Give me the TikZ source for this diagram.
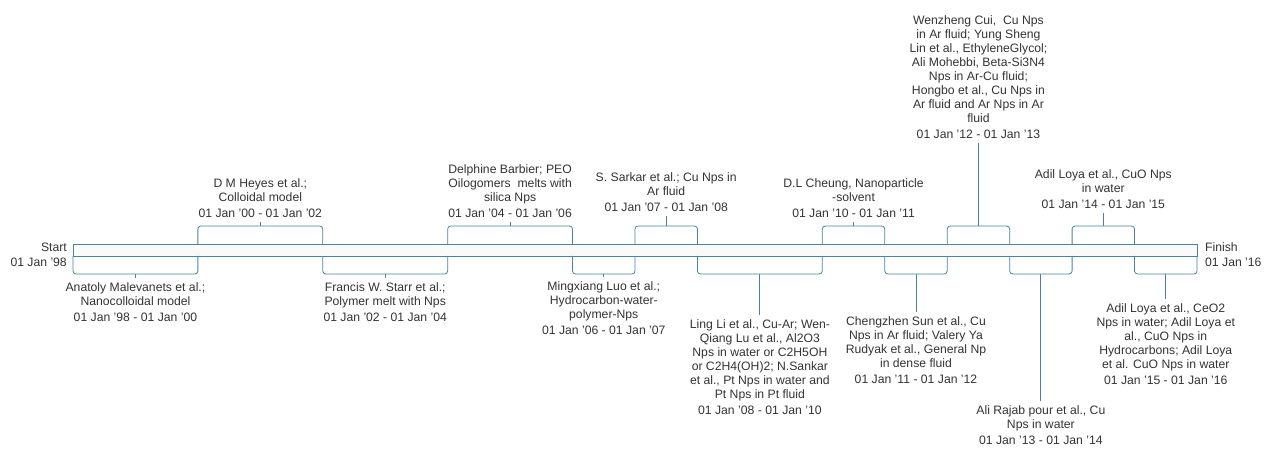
\documentclass[tikz,border=0pt]{standalone}
\usepackage{fontspec}
\setmainfont{Liberation Sans}
\usepackage{tikz}
\usetikzlibrary{positioning}
\definecolor{tlblue}{RGB}{72, 132, 160}
\definecolor{txtgray}{RGB}{51, 51, 51}
\definecolor{barfill}{RGB}{250, 250, 250}

\begin{document}
\begin{tikzpicture}[x=1bp,y=-1bp,
	declare function={yx(\t)=73+(\t-1998)*62.444;},
	brk/.style={draw=tlblue,line width=0.8bp,rounded corners=3bp},
	evt/.style={align=center,text=txtgray,inner xsep=0pt,inner ysep=4bp,font=\fontsize{12.2bp}{14bp}\selectfont},
	upevt/.style={evt,anchor=south},
	dnevt/.style={evt,anchor=north},
	endlbl/.style={text=txtgray,inner sep=0pt,font=\fontsize{12.2bp}{14bp}\selectfont}]
	\useasboundingbox (0,0) rectangle (1265,451);

	% time bar
	\draw[tlblue,line width=0.8bp,fill=barfill] (73,244) rectangle (1197,256);
	\node[endlbl,anchor=base east] (start) at (67,252) {Start};
	\node[endlbl,anchor=base east] (startdate) at (67,267) {01 Jan '98};
	\node[endlbl,anchor=base west] (finish) at (1205,252) {Finish};
	\node[endlbl,anchor=base west] (finishdate) at (1205,267) {01 Jan '16};

	% events above the bar
	\draw[brk] ({yx(2000)},244) |- ({yx(2001)},226) -| ({yx(2002)},244);
	\coordinate (heyesc) at ({yx(2001)},226);
	\node[upevt] (heyes) at ({yx(2001)},222) {D M Heyes et al.;\\Colloidal model\\[2bp]01 Jan '00 - 01 Jan '02};
	\draw[brk] (heyesc) -- (heyes);

	\draw[brk] ({yx(2004)},244) |- ({yx(2005)},226) -| ({yx(2006)},244);
	\coordinate (barbierc) at ({yx(2005)},226);
	\node[upevt] (barbier) at ({yx(2005)},222) {Delphine Barbier; PEO\\Oilogomers\ \ melts with\\silica Nps\\[2bp]01 Jan '04 - 01 Jan '06};
	\draw[brk] (barbierc) -- (barbier);

	\draw[brk] ({yx(2007)},244) |- ({yx(2007.5)},226) -| ({yx(2008)},244);
	\coordinate (sarkarc) at ({yx(2007.5)},226);
	\node[upevt] (sarkar) at ({yx(2007.5)},216) {S. Sarkar et al.; Cu Nps in\\Ar fluid\\[2bp]01 Jan '07 - 01 Jan '08};
	\draw[brk] (sarkarc) -- (sarkar);

	\draw[brk] ({yx(2010)},244) |- ({yx(2010.5)},226) -| ({yx(2011)},244);
	\coordinate (cheungc) at ({yx(2010.5)},226);
	\node[upevt] (cheung) at ({yx(2010.5)},222) {D.L Cheung, Nanoparticle\\-solvent\\[2bp]01 Jan '10 - 01 Jan '11};
	\draw[brk] (cheungc) -- (cheung);

	\draw[brk] ({yx(2012)},244) |- ({yx(2012.5)},226) -| ({yx(2013)},244);
	\coordinate (cuic) at ({yx(2012.5)},226);
	\node[upevt] (cui) at ({yx(2012.5)},143) {Wenzheng Cui,\ \ Cu Nps\\in Ar fluid; Yung Sheng\\Lin et al., EthyleneGlycol;\\Ali Mohebbi, Beta-Si3N4\\Nps in Ar-Cu fluid;\\Hongbo et al., Cu Nps in\\Ar fluid and Ar Nps in Ar\\fluid\\[2bp]01 Jan '12 - 01 Jan '13};
	\draw[brk] (cuic) -- (cui);

	\draw[brk] ({yx(2014)},244) |- ({yx(2014.5)},226) -| ({yx(2015)},244);
	\coordinate (loyacuoc) at ({yx(2014.5)},226);
	\node[upevt] (loyacuo) at ({yx(2014.5)},213) {Adil Loya et al., CuO Nps\\in water\\[2bp]01 Jan '14 - 01 Jan '15};
	\draw[brk] (loyacuoc) -- (loyacuo);

	% events below the bar
	\draw[brk] ({yx(1998)},256) |- ({yx(1999)},274) -| ({yx(2000)},256);
	\coordinate (malevc) at ({yx(1999)},274);
	\node[dnevt] (malev) at ({yx(1999)},278) {Anatoly Malevanets et al.;\\Nanocolloidal model\\[2bp]01 Jan '98 - 01 Jan '00};
	\draw[brk] (malevc) -- (malev);

	\draw[brk] ({yx(2002)},256) |- ({yx(2003)},274) -| ({yx(2004)},256);
	\coordinate (starrc) at ({yx(2003)},274);
	\node[dnevt] (starr) at ({yx(2003)},278) {Francis W. Starr et al.;\\Polymer melt with Nps\\[2bp]01 Jan '02 - 01 Jan '04};
	\draw[brk] (starrc) -- (starr);

	\draw[brk] ({yx(2006)},256) |- ({yx(2006.5)},274) -| ({yx(2007)},256);
	\coordinate (luoc) at ({yx(2006.5)},274);
	\node[dnevt] (luo) at ({yx(2006.5)},277) {Mingxiang Luo et al.;\\Hydrocarbon-water-\\polymer-Nps\\[2bp]01 Jan '06 - 01 Jan '07};
	\draw[brk] (luoc) -- (luo);

	\draw[brk] ({yx(2008)},256) |- ({yx(2009)},274) -| ({yx(2010)},256);
	\coordinate (lingc) at ({yx(2009)},274);
	\node[dnevt] (ling) at ({yx(2009)},315) {Ling Li et al., Cu-Ar; Wen-\\Qiang Lu et al., Al2O3\\Nps in water or C2H5OH\\or C2H4(OH)2; N.Sankar\\et al., Pt Nps in water and\\Pt Nps in Pt fluid\\[2bp]01 Jan '08 - 01 Jan '10};
	\draw[brk] (lingc) -- (ling);

	\draw[brk] ({yx(2011)},256) |- ({yx(2011.5)},274) -| ({yx(2012)},256);
	\coordinate (sunc) at ({yx(2011.5)},274);
	\node[dnevt] (sun) at ({yx(2011.5)},312) {Chengzhen Sun et al., Cu\\Nps in Ar fluid; Valery Ya\\Rudyak et al., General Np\\in dense fluid\\[2bp]01 Jan '11 - 01 Jan '12};
	\draw[brk] (sunc) -- (sun);

	\draw[brk] ({yx(2013)},256) |- ({yx(2013.5)},274) -| ({yx(2014)},256);
	\coordinate (rajabc) at ({yx(2013.5)},274);
	\node[dnevt] (rajab) at ({yx(2013.5)},401) {Ali Rajab pour et al., Cu\\Nps in water\\[2bp]01 Jan '13 - 01 Jan '14};
	\draw[brk] (rajabc) -- (rajab);

	\draw[brk] ({yx(2015)},256) |- ({yx(2015.5)},274) -| ({yx(2016)},256);
	\coordinate (loyaceoc) at ({yx(2015.5)},274);
	\node[dnevt] (loyaceo) at ({yx(2015.5)},299) {Adil Loya et al., CeO2\\Nps in water; Adil Loya et\\al., CuO Nps in\\Hydrocarbons; Adil Loya\\et al. CuO Nps in water\\[2bp]01 Jan '15 - 01 Jan '16};
	\draw[brk] (loyaceoc) -- (loyaceo);
\end{tikzpicture}
\end{document}
